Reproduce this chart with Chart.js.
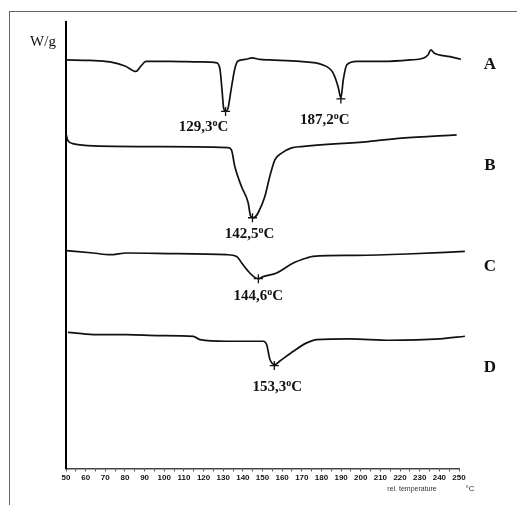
<!DOCTYPE html>
<html>
<head>
<meta charset="utf-8">
<title>DSC thermograms</title>
<script src="https://cdn.jsdelivr.net/npm/chart.js@4/dist/chart.umd.min.js"></script>
<style>
  html, body { margin: 0; padding: 0; background: #fff; }
  #wrap { position: relative; width: 517px; height: 505px; }
  #frame {
    position: absolute; left: 9px; top: 11px; right: 0; bottom: 0;
    border-left: 1px solid #666; border-top: 1px solid #666;
  }
  canvas { position: absolute; left: 0; top: 0; }
</style>
</head>
<body>
<div id="wrap">
  <div id="frame"></div>
  <canvas id="dsc" width="517" height="505"></canvas>
</div>
<script>
// temperature (°C) / heat flow (W/g, offset per curve)
const tempA = [50, 62.2, 72.4, 80, 85.6, 88.2, 90.7, 102.9, 118.2, 126.8, 128.4, 129.4, 130.2, 131.2, 132.5, 134, 136, 137.5, 141.1, 144.7, 148.7, 153.8, 169.1, 180.8, 185.9, 188.5, 189.9, 191.1, 192.9, 198, 211.3, 225.1, 231.7, 234.2, 235.7, 237.3, 245.4, 251];
const heatA = [40.9, 40.85, 40.7, 40.3, 39.75, 40.3, 40.75, 40.75, 40.7, 40.6, 39.9, 37.9, 36.1, 35.75, 36.1, 37.9, 40.1, 40.8, 40.95, 41.1, 40.95, 40.9, 40.75, 40.4, 39.6, 38.2, 37.1, 38.9, 40.4, 40.75, 40.75, 40.9, 41.07, 41.4, 41.9, 41.6, 41.23, 40.97];

const tempB = [50, 51, 54, 64, 98.9, 132.5, 134.2, 135.9, 139.3, 142.7, 143.9, 145.2, 146.4, 147.8, 151.2, 153.7, 156.3, 159.7, 164.8, 169.9, 203.8, 220.8, 248.8];
const heatB = [33.5, 32.8, 32.5, 32.3, 32.23, 32.13, 31.9, 30.23, 28.23, 26.6, 25.3, 25.1, 25.2, 25.6, 27.23, 29.23, 30.9, 31.57, 32.1, 32.23, 32.73, 33.07, 33.4];

const tempC = [50, 63.9, 72.4, 80.9, 106.3, 131.8, 136.9, 139.4, 142.8, 145.5, 147.9, 150.4, 157.2, 165.7, 172.5, 175.7, 197.9, 223.4, 253];
const heatC = [21.8, 21.57, 21.4, 21.57, 21.5, 21.4, 21.23, 20.57, 19.73, 19.2, 19.0, 19.2, 19.57, 20.57, 21.07, 21.23, 21.33, 21.47, 21.73];

const tempD = [51, 63.9, 80.9, 97.8, 114.8, 118.2, 131.8, 150.4, 152.1, 153.8, 156.3, 158.7, 165.7, 172.5, 177.6, 194.5, 214.9, 240.3, 253];
const heatD = [13.63, 13.4, 13.4, 13.3, 13.23, 12.9, 12.73, 12.73, 12.4, 10.9, 10.4, 10.73, 11.73, 12.57, 12.9, 12.97, 12.83, 12.97, 13.23];

// peak markers (+) and their labels
const peakTemp = [131.2, 189.9, 144.9, 147.9, 156];
const peakHeat = [35.75, 37.0, 25.1, 19.0, 10.3];
const peakLabel = ["129,3", "187,2", "142,5", "144,6", "153,3"];

const curveNames = ["A", "B", "C", "D"];
const curveLabelHeat = [40.0, 29.9, 19.8, 9.7];

const xTicks = [50, 250, 5];

function pts(t, h) {
  return t.map((v, i) => ({ x: v, y: h[i] }));
}

function curve(name, t, h) {
  return {
    label: name,
    data: pts(t, h),
    borderColor: "#111",
    borderWidth: 1.7,
    pointRadius: 0,
    cubicInterpolationMode: "monotone",
    clip: false
  };
}

const labelOffsets = [[-22, 20], [-16, 25], [-3, 20], [0, 21], [3, 25]];

const textPlugin = {
  id: "dscText",
  afterDatasetsDraw(chart) {
    const ctx = chart.ctx;
    const xs = chart.scales.x;
    const ys = chart.scales.y;
    ctx.save();
    ctx.fillStyle = "#111";
    ctx.textBaseline = "alphabetic";

    // peak temperatures with superscript o
    peakLabel.forEach((txt, i) => {
      const px = xs.getPixelForValue(peakTemp[i]) + labelOffsets[i][0];
      const py = ys.getPixelForValue(peakHeat[i]) + labelOffsets[i][1];
      const big = "bold 15px 'Liberation Serif', 'Times New Roman', serif";
      const small = "bold 10px 'Liberation Serif', 'Times New Roman', serif";
      ctx.font = big;
      const w1 = ctx.measureText(txt).width;
      const w3 = ctx.measureText("C").width;
      ctx.font = small;
      const w2 = ctx.measureText("o").width;
      let x = px - (w1 + w2 + w3) / 2;
      ctx.textAlign = "left";
      ctx.font = big;
      ctx.fillText(txt, x, py);
      x += w1;
      ctx.font = small;
      ctx.fillText("o", x, py - 5);
      x += w2;
      ctx.font = big;
      ctx.fillText("C", x, py);
    });

    // curve letters
    ctx.font = "bold 17px 'Liberation Serif', 'Times New Roman', serif";
    ctx.textAlign = "center";
    curveNames.forEach((n, i) => {
      ctx.fillText(n, 490, ys.getPixelForValue(curveLabelHeat[i]));
    });

    // axis captions
    ctx.font = "15px 'Liberation Serif', 'Times New Roman', serif";
    ctx.fillText("W/g", 43, 46);
    ctx.font = "7px 'Liberation Sans Narrow', 'Liberation Sans', sans-serif";
    ctx.fillStyle = "#333";
    ctx.fillText("rel. temperature", 412, 491);
    ctx.font = "8px 'Liberation Sans Narrow', 'Liberation Sans', sans-serif";
    ctx.fillText("°C", 470, 491);
    ctx.restore();
  }
};

new Chart(document.getElementById("dsc"), {
  type: "line",
  data: {
    datasets: [
      curve("A", tempA, heatA),
      curve("B", tempB, heatB),
      curve("C", tempC, heatC),
      curve("D", tempD, heatD),
      {
        type: "scatter",
        label: "peaks",
        data: pts(peakTemp, peakHeat),
        pointStyle: "cross",
        pointRadius: 4.5,
        borderColor: "#111",
        borderWidth: 1.3,
        clip: false
      }
    ]
  },
  options: {
    responsive: false,
    animation: false,
    layout: { padding: { left: 66, right: 58, top: 22, bottom: 20 } },
    plugins: { legend: { display: false }, tooltip: { enabled: false } },
    scales: {
      x: {
        type: "linear",
        min: xTicks[0],
        max: xTicks[1],
        grid: { drawOnChartArea: false, drawTicks: true, tickLength: 3, color: "#444" },
        border: { color: "#444", width: 1.5 },
        ticks: {
          stepSize: xTicks[2],
          autoSkip: false,
          maxRotation: 0,
          padding: 2,
          color: "#111",
          font: { size: 8, weight: "bold", family: "'Liberation Sans Narrow', 'Liberation Sans', sans-serif" },
          callback: v => (v % 10 === 0 ? v : "")
        }
      },
      y: {
        min: 0,
        max: 44.7,
        grid: { drawOnChartArea: false, drawTicks: false },
        border: { color: "#000", width: 2 },
        ticks: { display: false }
      }
    }
  },
  plugins: [textPlugin]
});
</script>
</body>
</html>
